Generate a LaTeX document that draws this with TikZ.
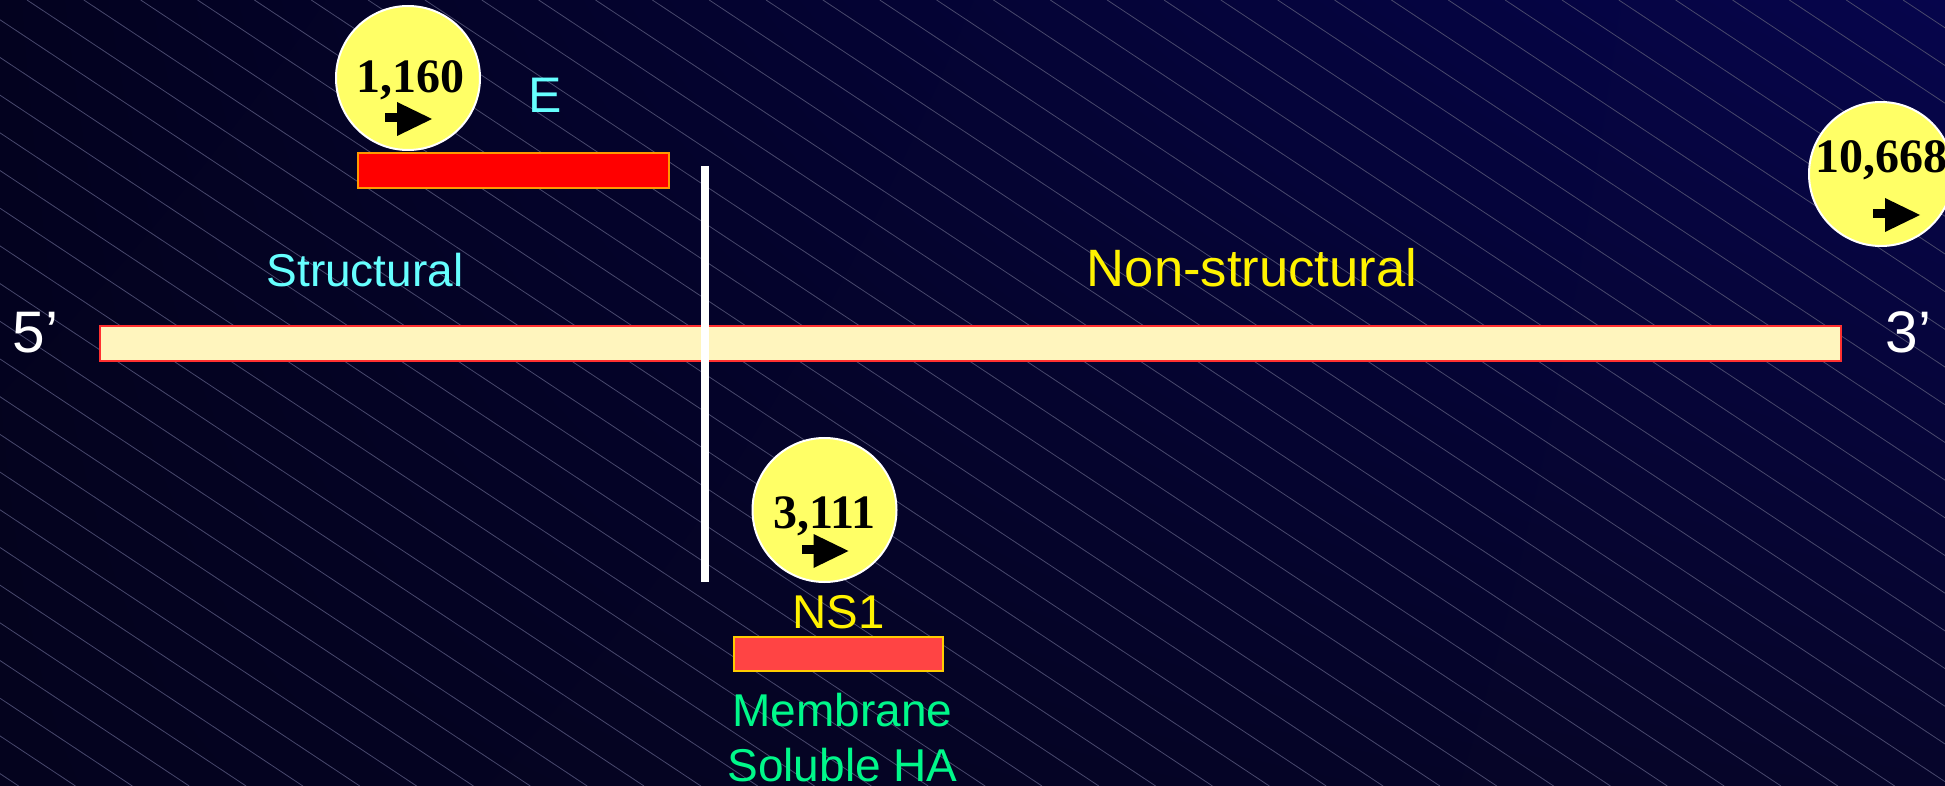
\documentclass[tikz,border=0pt]{standalone}
\usepackage{fontspec}
\setmainfont{Liberation Sans}
\newfontfamily\numfont{Liberation Serif}
\usetikzlibrary{positioning,calc,shadings}

\definecolor{bgtl}{HTML}{03021F}
\definecolor{bgtr}{HTML}{06054C}
\definecolor{bgbl}{HTML}{04031E}
\definecolor{bgbr}{HTML}{06052A}
\definecolor{bgline}{RGB}{72,72,108}
\definecolor{bubbleyellow}{HTML}{FFFF66}
\definecolor{cream}{HTML}{FFF5BE}
\definecolor{barred}{HTML}{FF3030}
\definecolor{eorange}{HTML}{FF9900}
\definecolor{nsred}{HTML}{FF4444}
\definecolor{nsyellow}{HTML}{FFCC00}
\definecolor{labcyan}{HTML}{66FFFF}
\definecolor{labgreen}{HTML}{00F88A}

\begin{document}
\begin{tikzpicture}[x=0.5pt,y=-0.5pt,
bubble/.style={circle,fill=bubbleyellow,draw=white,line width=1pt,minimum size=72pt,inner sep=0pt},
num/.style={font=\numfont\bfseries\fontsize{24}{27}\selectfont,inner sep=0pt,anchor=base},
lbl/.style={inner sep=0pt,anchor=base},
genebar/.style={rectangle,inner sep=0pt,line width=0.8pt,minimum height=17.5pt},
startarrow/.pic={\fill[black] (-23,35) rectangle (-11,44);
                 \fill[black] (-11,24) -- (24,41) -- (-11,58) -- cycle;}]

        \useasboundingbox (0,0) rectangle (1945,786);
        \shade[upper left=bgtl,upper right=bgtr,lower left=bgbl,lower right=bgbr] (0,0) rectangle (1945,786);
        \begin{scope}
            \clip (0,0) rectangle (1945,786);
            \foreach \k in {-21,...,34}
                \draw[bgline,line width=0.4pt] ({27+56.85*\k},0) -- ++(1185.5,786);
        \end{scope}

        \node [genebar, fill=cream, draw=barred, minimum width=870.5pt] (G) at (970.5,343.5) {};
        \node [genebar, fill=red, draw=eorange, minimum width=155.5pt] (EB) at (513.5,170.5) {};
        \node [genebar, fill=nsred, draw=nsyellow, minimum width=104.5pt, minimum height=17pt] (NB) at (838.5,654) {};

        \coordinate (T) at (705,166);
        \coordinate (U) at (705,582);
        \draw[white, line width=4pt] (T) -- (U);

        \node [lbl, white, font=\fontsize{29.3}{32}\selectfont] (P5) at (35.3,353) {5’};
        \node [lbl, white, font=\fontsize{29.3}{32}\selectfont] (P3) at (1908.3,353) {3’};
        \node [lbl, labcyan, font=\fontsize{23}{26}\selectfont] (S) at (365,287) {Structural};
        \node [lbl, yellow, font=\fontsize{26.3}{30}\selectfont] (NS) at (1252,287) {Non-structural};
        \node [lbl, labcyan, font=\fontsize{25}{28}\selectfont] (E) at (545,113) {E};

        \node [lbl, yellow, font=\fontsize{23.7}{27}\selectfont, anchor=south, above=3.5pt of NB] (N1) {NS1};
        \node [lbl, labgreen, font=\fontsize{23}{26}\selectfont, anchor=north, below=10.5pt of NB, xshift=2pt] (M) {Membrane};
        \node [lbl, labgreen, font=\fontsize{23}{26}\selectfont, anchor=north, below=10pt of M] (H) {Soluble HA};

        \node [bubble] (B1) at (408,78) {};
        \node [bubble] (B2) at (824.5,510) {};
        \node [bubble] (B3) at (1881,174) {};
        \node [num] (N1160) at (410,93) {1,160};
        \node [num] (N3111) at (824.5,528) {3,111};
        \node [num] (N10668) at (1881,173) {10,668};
        \pic at (B1) {startarrow};
        \pic at (B2) {startarrow};
        \pic at ($(B3)+(15,0)$) {startarrow};
    \end{tikzpicture}
\end{document}
